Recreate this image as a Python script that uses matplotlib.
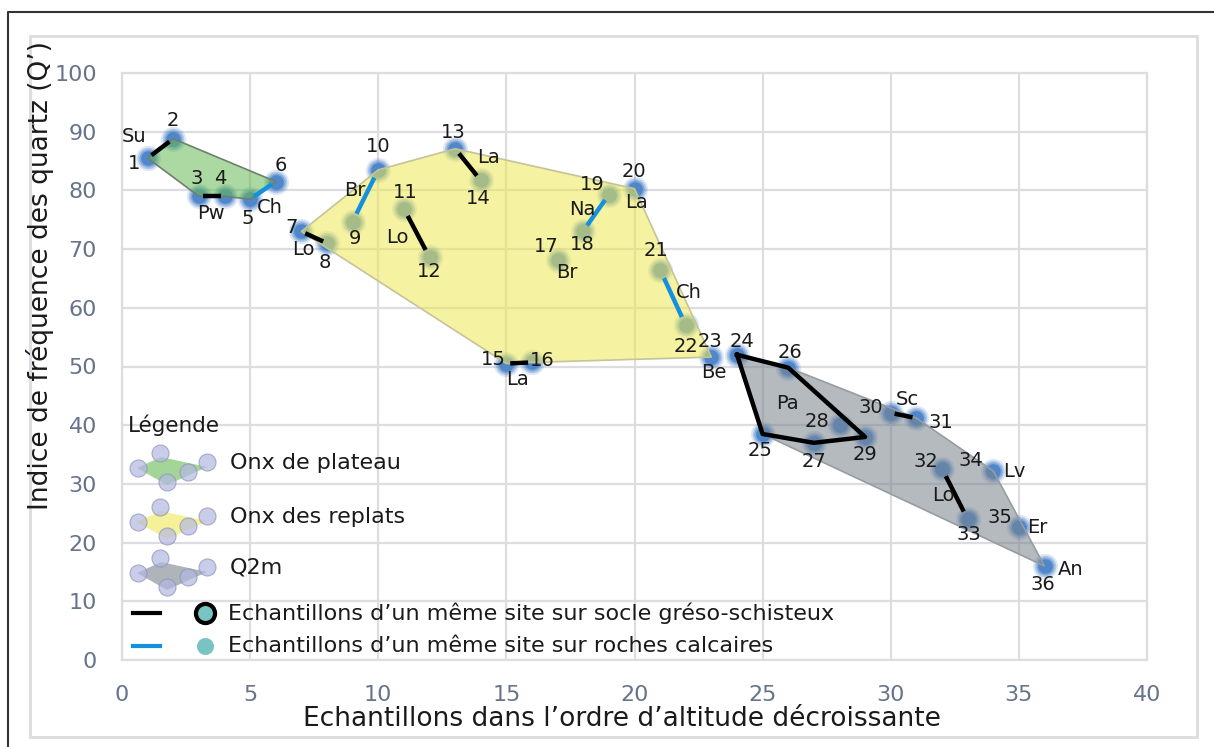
import numpy as np
import matplotlib
matplotlib.use("Agg")
import matplotlib.pyplot as plt
from matplotlib.patches import Polygon, Rectangle
from matplotlib.lines import Line2D

plt.rcParams['font.family'] = ['DejaVu Sans']

# Samples: rank in decreasing altitude and quartz frequency index Q'
sample = np.arange(1, 37)
q_index = [85.5, 88.8, 79.0, 79.0, 78.5, 81.5, 73.0, 71.0, 74.7, 83.5,
           76.9, 68.6, 87.1, 81.7, 50.5, 50.7, 68.1, 73.1, 79.3, 80.3,
           66.5, 57.0, 51.6, 52.0, 38.5, 49.8, 37.0, 40.0, 38.0, 42.1,
           41.2, 32.6, 24.0, 32.2, 22.7, 16.0]

# label offsets (pixels) for each sample number
num_offsets = [(-14, -5), (0, 18), (-2, 18), (-4, 18), (-2, -19), (5, 16),
               (-10, 4), (-2, -19), (2, -17), (0, 23), (1, 16), (0, -14),
               (-2, 16), (-2, -18), (-13, 4), (10, 2), (-11, 14), (-1, -14),
               (-17, 10), (-1, 17), (-4, 19), (0, -21), (-1, 16), (5, 13),
               (-3, -16), (2, 15), (0, -19), (-22, 4), (0, -18), (-20, 5),
               (25, -4), (-16, 7), (1, -15), (-22, 10), (-19, 9), (-2, -18)]

# site names: (text, anchor sample, offset px)
site_names = [("Su", 1, (-14, 22)), ("Pw", 3, (12, -17)), ("Ch", 6, (-6, -26)),
              ("Lo", 7, (2, -18)), ("Br", 9, (2, 31)), ("Lo", 11, (-6, -29)),
              ("La", 13, (33, -9)), ("La", 15, (11, -16)), ("Br", 17, (9, -12)),
              ("Na", 18, (-1, 21)), ("La", 20, (2, -14)), ("Ch", 21, (29, -23)),
              ("Be", 23, (2, -15)), ("Pa", 26, (-1, -36)), ("Sc", 30, (17, 13)),
              ("Lo", 32, (1, -27)), ("Lv", 34, (21, -1)), ("Er", 35, (18, -1)),
              ("An", 36, (26, -3))]

# samples taken at the same site
pairs_schist = [(1, 2), (3, 4), (7, 8), (11, 12), (13, 14), (15, 16), (30, 31), (32, 33)]
pairs_calc = [(5, 6), (9, 10), (18, 19), (21, 22)]
site_pa = [24, 25, 27, 29, 26, 24]

# groups (outline vertices)
hull_plateau = [1, 2, 6, 5, 4, 3]
hull_replats = [7, 10, 13, 20, 23, 16, 15]
hull_q2m = [24, 26, 31, 34, 36, 25]

c_plateau = (0.40, 0.73, 0.33)
c_replats = (0.93, 0.91, 0.33)
c_q2m = (0.47, 0.51, 0.55)

W, H = 1214, 747
fig = plt.figure(figsize=(W / 100, H / 100), dpi=100)

# frames around the figure
fig.add_artist(Line2D([8 / W, 8 / W, 1], [0, 1 - 12 / H, 1 - 12 / H],
                      transform=fig.transFigure, color='#333333', lw=1.5))
fig.add_artist(Rectangle((30 / W, 1 - 737 / H), (1197 - 30) / W, (737 - 36) / H,
                         transform=fig.transFigure, fill=False,
                         edgecolor='#dcdce0', lw=2))

ax = fig.add_axes([122 / W, 1 - 660 / H, (1147 - 122) / W, (660 - 73) / H])
ax.set_xlim(0, 40)
ax.set_ylim(0, 100)
ax.set_xticks(np.arange(0, 41, 5))
ax.set_yticks(np.arange(0, 101, 10))
ax.grid(True, color='#dcdce2', lw=1.6)
ax.set_axisbelow(True)
for s in ax.spines.values():
    s.set_color('#dcdce2')
    s.set_linewidth(1.6)
ax.tick_params(length=0, labelsize=16, labelcolor='#66738a', pad=18)

x = np.array(sample, dtype=float)
y = np.array(q_index)

def pt(n):
    return x[n - 1], y[n - 1]

# soft blue sample markers (stacked discs fake the fuzzy edge)
for size, alpha in [(330, 0.18), (240, 0.3), (170, 0.45), (110, 0.9)]:
    ax.scatter(x, y, s=size, color='#4a84c9', alpha=alpha, lw=0, zorder=3)

fills = [(hull_plateau, c_plateau, '#6f7f6f'),
         (hull_replats, c_replats, '#c4c498'),
         (hull_q2m, c_q2m, '#969ca2')]
for hull, fc, ec in fills:
    ax.add_patch(Polygon([pt(n) for n in hull], closed=True, facecolor=fc,
                         alpha=0.55, edgecolor='none', zorder=4))
    ax.add_patch(Polygon([pt(n) for n in hull], closed=True, fill=False,
                         edgecolor=ec, lw=1.2, zorder=4))

def pair_line(a, b, color):
    (x0, y0), (x1, y1) = pt(a), pt(b)
    f = 0.15
    ax.plot([x0 + f * (x1 - x0), x1 - f * (x1 - x0)],
            [y0 + f * (y1 - y0), y1 - f * (y1 - y0)],
            color=color, lw=3.2, solid_capstyle='butt', zorder=5)

for a, b in pairs_schist:
    pair_line(a, b, 'black')
for a, b in pairs_calc:
    pair_line(a, b, '#1590dc')
ax.plot([pt(n)[0] for n in site_pa], [pt(n)[1] for n in site_pa],
        color='black', lw=3.2, zorder=5)

for n, (dx, dy) in zip(sample, num_offsets):
    ax.annotate(str(n), pt(n), xytext=(dx, dy), textcoords='offset pixels',
                ha='center', va='center', fontsize=14, color='#1a1a1a', zorder=6)
for name, n, (dx, dy) in site_names:
    ax.annotate(name, pt(n), xytext=(dx, dy), textcoords='offset pixels',
                ha='center', va='center', fontsize=14, color='#1a1a1a', zorder=6)

fig.text(622 / W, 1 - 719 / H, "Echantillons dans l\u2019ordre d\u2019altitude décroissante",
         ha='center', va='center', fontsize=19, color='#1a1a1a')
fig.text(40 / W, 1 - 276 / H, "Indice de fréquence des quartz (Q\u2019)",
         ha='center', va='center', rotation=90, fontsize=19, color='#1a1a1a')

# legend drawn in pixel units
lg = fig.add_axes([110 / W, 1 - 670 / H, 720 / W, 270 / H])
lg.set_xlim(110, 830)
lg.set_ylim(670, 400)
lg.axis('off')
lg.patch.set_visible(False)

lg.text(128, 425, "Légende", ha='left', va='center', fontsize=15.5, color='#1a1a1a')

icon_poly = [(-35, 5), (-11, -6), (35, 4), (-5, 22)]
icon_dots = [(-34, 5), (-12, -10), (35, -1), (-5, 19), (16, 9)]
rows = [("Onx de plateau", 463, c_plateau),
        ("Onx des replats", 517, c_replats),
        ("Q2m", 568, c_q2m)]
for label, ry, fc in rows:
    lg.add_patch(Polygon([(172 + dx, ry + dy) for dx, dy in icon_poly], closed=True,
                         facecolor=fc, alpha=0.6, edgecolor='none'))
    lg.scatter([172 + dx for dx, dy in icon_dots], [ry + dy for dx, dy in icon_dots],
               s=150, color='#b4b8e2', alpha=0.7, edgecolor='#8c90b4', lw=0.8)
    lg.text(230, ry, label, ha='left', va='center', fontsize=16, color='#1a1a1a')

lg.plot([133, 160], [613, 613], color='black', lw=3)
lg.scatter([205], [613], s=190, color='#78c4c2', edgecolor='black', lw=3)
lg.text(228, 613, "Echantillons d\u2019un même site sur socle gréso-schisteux",
        ha='left', va='center', fontsize=16, color='#1a1a1a')
lg.plot([133, 160], [646, 646], color='#1590dc', lw=3)
lg.scatter([205], [646], s=150, color='#78c4c2', lw=0)
lg.text(228, 646, "Echantillons d\u2019un même site sur roches calcaires",
        ha='left', va='center', fontsize=16, color='#1a1a1a')

fig.savefig('out.png', dpi=100)
